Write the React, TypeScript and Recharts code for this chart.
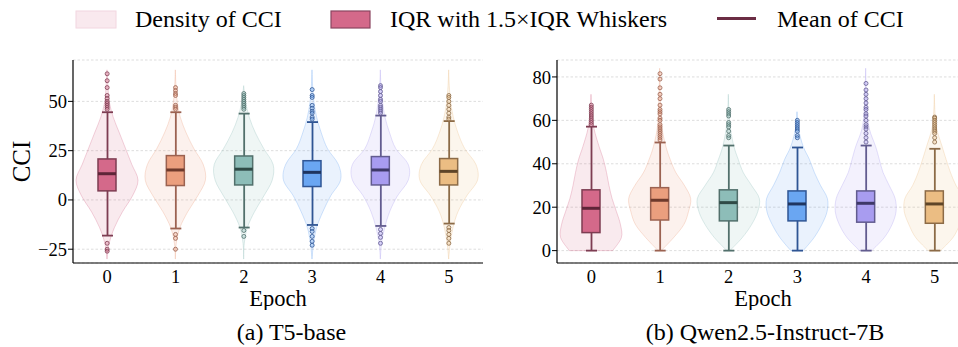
import React from 'react';
import { ComposedChart, Bar, Scatter, XAxis, YAxis, CartesianGrid, Label } from 'recharts';

const FONT = '"Liberation Serif", "Times New Roman", serif';

const EPOCHS = ['0', '1', '2', '3', '4', '5'];
const FILLS = ['#d4698a', '#eb9f7e', '#8dbdb8', '#6aa6f2', '#a89cf0', '#ebbd83'];
const EDGES = ['#7d3d52', '#9b6251', '#52706c', '#2f5594', '#625c8f', '#8c6b47'];
const MEAN_COLORS = ['#5e2538', '#6e3a2c', '#2f4a46', '#1f3560', '#3e3868', '#5e4528'];

// (a) T5-base
const T5_Q1 = [4.6, 7.3, 7.6, 6.8, 7.6, 7.6];
const T5_Q3 = [20.8, 22.5, 22.3, 19.9, 22, 21];
const T5_MEAN = [13.3, 15.2, 15.6, 14, 15.2, 14.5];
const T5_LOW = [-18.1, -14.5, -14, -12.7, -13.2, -12];
const T5_HIGH = [44.5, 44.5, 43.8, 39.5, 42.8, 40];
const T5_OUTLIERS = [
  [64, 60.5, 57, 53, 51.5, 50, 49, 48, 47, 46, -22, -25, -26],
  [57, 55.5, 54, 53, 48, 47, 46, -17.5, -19.5, -25],
  [54, 53, 52, 51, 50, 49, 48, 47, 46, -15.5, -18.5],
  [56, 53, 52, 48, 46.5, 45, 44, 42, 41, -14.5, -16, -18.5, -21, -23],
  [58, 57, 55, 53, 51, 50, 48, 47, 46, 45, 44, -15, -17, -19, -22],
  [53, 52, 50, 48, 46, 44, 42, 41, -14, -15.5, -17.5, -19.5, -22],
];
const T5_GRID = [-30, -22, -14, -6, 2, 10, 18, 26, 34, 42, 50, 58, 66];
const T5_DENSITY = [
  [0, 0.07, 0.24, 0.5, 0.82, 1.0, 0.8, 0.6, 0.4, 0.2, 0.07, 0.03, 0],
  [0, 0.03, 0.15, 0.4, 0.72, 0.97, 0.9, 0.6, 0.35, 0.16, 0.06, 0.02, 0],
  [0, 0.02, 0.12, 0.35, 0.65, 0.92, 0.95, 0.65, 0.38, 0.18, 0.06, 0, 0],
  [0, 0.05, 0.15, 0.35, 0.6, 0.92, 0.85, 0.5, 0.3, 0.15, 0.06, 0.02, 0],
  [0, 0.04, 0.14, 0.3, 0.55, 0.9, 0.9, 0.5, 0.3, 0.15, 0.07, 0.02, 0],
  [0, 0.05, 0.14, 0.3, 0.58, 0.93, 0.88, 0.52, 0.3, 0.15, 0.06, 0.02, 0],
];
const T5_TICKS = [-25, 0, 25, 50];

// (b) Qwen2.5-Instruct-7B
const QW_Q1 = [8.3, 14.1, 13.7, 13.7, 13.1, 12.6];
const QW_Q3 = [28, 29, 28, 27.5, 27.5, 27.5];
const QW_MEAN = [19.5, 23.2, 22.1, 21.5, 21.8, 21.5];
const QW_LOW = [0, 0, 0, 0, 0, 0];
const QW_HIGH = [57.1, 49.8, 48.4, 47.5, 48.4, 46.9];
const QW_OUTLIERS = [
  [67, 66, 65, 64, 63, 62, 61, 60, 59, 58],
  [81.5, 79, 75, 72, 70, 67, 65, 64, 63, 61, 60, 58, 57, 56, 55, 54, 53, 52, 51],
  [65, 64, 63, 62, 59, 58, 57, 55, 53, 52],
  [60, 59, 58, 57, 56, 55, 53, 52],
  [77, 74, 72, 70, 68, 66, 65, 63, 62, 60, 58, 57, 56, 54, 52, 50],
  [61.5, 61, 60, 59, 58, 57, 56, 55, 54, 52, 50],
];
const QW_GRID = [0, 6, 12, 18, 24, 30, 36, 42, 48, 56, 64, 72, 84];
const QW_DENSITY = [
  [0.7, 0.98, 0.95, 0.82, 0.68, 0.58, 0.5, 0.4, 0.26, 0.1, 0.03, 0, 0],
  [0.05, 0.45, 0.78, 0.93, 1.0, 0.8, 0.52, 0.34, 0.2, 0.08, 0.04, 0.02, 0],
  [0.05, 0.45, 0.75, 0.95, 1.0, 0.75, 0.48, 0.32, 0.18, 0.07, 0.02, 0, 0],
  [0.2, 0.55, 0.8, 0.97, 0.98, 0.76, 0.56, 0.4, 0.2, 0.05, 0, 0, 0],
  [0.2, 0.6, 0.85, 0.98, 0.95, 0.76, 0.56, 0.44, 0.32, 0.12, 0.05, 0.02, 0],
  [0.2, 0.6, 0.82, 0.97, 0.95, 0.7, 0.52, 0.38, 0.25, 0.08, 0.02, 0, 0],
];
const QW_TICKS = [0, 20, 40, 60, 80];

// catmull-rom through the points, as cubic segments
const curve = (pts: number[][]) => {
  let d = '';
  for (let i = 0; i < pts.length - 1; i++) {
    const p0 = pts[Math.max(i - 1, 0)];
    const p1 = pts[i];
    const p2 = pts[i + 1];
    const p3 = pts[Math.min(i + 2, pts.length - 1)];
    const c1 = [p1[0] + (p2[0] - p0[0]) / 6, p1[1] + (p2[1] - p0[1]) / 6];
    const c2 = [p2[0] - (p3[0] - p1[0]) / 6, p2[1] - (p3[1] - p1[1]) / 6];
    d += ` C${c1[0]},${c1[1]} ${c2[0]},${c2[1]} ${p2[0]},${p2[1]}`;
  }
  return d;
};

const Violin = (p: any) => {
  const { x, y, width, height, payload } = p;
  const top = Math.min(y, y + height);
  const h = Math.abs(height);
  const g: number[] = payload.grid;
  const w: number[] = payload.dens;
  const lo = g[0];
  const hi = g[g.length - 1];
  const py = (v: number) => top + ((hi - v) / (hi - lo)) * h;
  // keep only the part with some width, plus one closing point at each end
  let a = 0;
  while (a < w.length - 1 && w[a + 1] === 0) a++;
  let b = w.length - 1;
  while (b > 0 && w[b - 1] === 0) b--;
  const cx = x + width / 2;
  const half = width / 2;
  const idx = g.map((_, i) => i).filter((i) => i >= a && i <= b);
  const right = idx.map((i) => [cx + w[i] * half, py(g[i])]).reverse();
  const left = idx.map((i) => [cx - w[i] * half, py(g[i])]);
  const d = `M${right[0][0]},${right[0][1]}` + curve(right) + ` L${left[0][0]},${left[0][1]}` + curve(left) + ' Z';
  const c = FILLS[payload.k];
  return <path d={d} fill={c} fillOpacity={0.14} stroke={c} strokeOpacity={0.3} strokeWidth={1} />;
};

const Whisker = (p: any) => {
  const { x, y, width, height, payload } = p;
  const top = Math.min(y, y + height);
  const bot = Math.max(y, y + height);
  const cx = x + width / 2;
  const c = EDGES[payload.k];
  return (
    <g stroke={c} strokeWidth={1.8}>
      <line x1={cx} x2={cx} y1={top} y2={bot} />
      <line x1={x} x2={x + width} y1={top} y2={top} />
      <line x1={x} x2={x + width} y1={bot} y2={bot} />
    </g>
  );
};

const Box = (p: any) => {
  const { x, y, width, height, payload } = p;
  const top = Math.min(y, y + height);
  return (
    <rect x={x} y={top} width={width} height={Math.abs(height)} fill={FILLS[payload.k]}
      stroke={EDGES[payload.k]} strokeWidth={1.5} />
  );
};

const MeanLine = (p: any) => {
  const { x, y, width, payload } = p;
  return <line x1={x} x2={x + width} y1={y} y2={y} stroke={MEAN_COLORS[payload.k]} strokeWidth={3} />;
};

const Dot = (p: any) => {
  const { cx, cy, payload } = p;
  return <circle cx={cx} cy={cy} r={2} fill={FILLS[payload.k]} fillOpacity={0.35} stroke={EDGES[payload.k]} strokeWidth={0.8} />;
};

const fmt = (v: number) => String(v).replace('-', '\u2212');

interface PanelProps {
  grid: number[];
  dens: number[][];
  q1: number[];
  q3: number[];
  mean: number[];
  low: number[];
  high: number[];
  outliers: number[][];
  domain: [number, number];
  ticks: number[];
  yLabel?: string;
  width: number;
  yAxisWidth: number;
  marginRight: number;
  left: number;
}

const Panel: React.FC<PanelProps> = (props) => {
  const { grid, dens, q1, q3, mean, low, high, outliers, domain, ticks, yLabel } = props;
  const rows = EPOCHS.map((e, k) => ({
    epoch: e,
    k,
    grid,
    dens: dens[k],
    violin: [grid[0], grid[grid.length - 1]],
    whisker: [low[k], high[k]],
    box: [q1[k], q3[k]],
    mean: [mean[k], mean[k]],
  }));
  const dots = outliers.flatMap((vals, k) => vals.map((v) => ({ x: k, y: v, k })));
  const tickStyle = { fill: '#000', fontSize: 18.5, style: { fontFamily: FONT } };

  return (
    <div style={{ position: 'absolute', left: props.left, top: 0 }}>
      <ComposedChart width={props.width} height={310} data={rows}
        margin={{ top: 60, right: props.marginRight, left: 0, bottom: 0 }}>
        <CartesianGrid vertical={false} stroke="#d4d4d4" strokeDasharray="2.5 2" strokeWidth={0.8} />
        <XAxis xAxisId="b" dataKey="epoch" type="category" height={47} tickLine={false}
          axisLine={{ stroke: '#000', strokeWidth: 1.2 }} tick={tickStyle} tickSize={6} tickMargin={1}>
          <Label value="Epoch" position="insideBottom" offset={4}
            style={{ fill: '#000', fontSize: 22.5, fontFamily: FONT }} />
        </XAxis>
        <XAxis xAxisId="v" dataKey="epoch" type="category" hide />
        <XAxis xAxisId="w" dataKey="epoch" type="category" hide />
        <XAxis xAxisId="m" dataKey="epoch" type="category" hide />
        <XAxis xAxisId="n" dataKey="x" type="number" domain={[-0.5, 5.5]} allowDataOverflow hide />
        <YAxis domain={domain} ticks={ticks} allowDataOverflow width={props.yAxisWidth}
          tickFormatter={fmt} tick={tickStyle} tickSize={5} tickMargin={1}
          axisLine={{ stroke: '#000', strokeWidth: 1.2 }} tickLine={{ stroke: '#000', strokeWidth: 1 }}>
          {yLabel ? (
            <Label value={yLabel} angle={-90} position="insideLeft" offset={21}
              style={{ textAnchor: 'middle', fill: '#000', fontSize: 25, fontFamily: FONT }} />
          ) : null}
        </YAxis>
        <Bar xAxisId="v" dataKey={(r: any) => r.violin} barSize={62} shape={Violin} isAnimationActive={false} />
        <Bar xAxisId="w" dataKey={(r: any) => r.whisker} barSize={11} shape={Whisker} isAnimationActive={false} />
        <Bar xAxisId="b" dataKey={(r: any) => r.box} barSize={18} shape={Box} isAnimationActive={false} />
        <Bar xAxisId="m" dataKey={(r: any) => r.mean} barSize={18} shape={MeanLine} isAnimationActive={false} />
        <Scatter xAxisId="n" data={dots} dataKey="y" shape={Dot} isAnimationActive={false} />
      </ComposedChart>
    </div>
  );
};

const App: React.FC = () => {
  const text = { fontSize: 24, fill: '#000', style: { fontFamily: FONT } };
  return (
    <div style={{ position: 'absolute', left: 0, top: 0, width: 958, height: 347, overflow: 'hidden', background: '#fff' }}>
      <Panel grid={T5_GRID} dens={T5_DENSITY} q1={T5_Q1} q3={T5_Q3} mean={T5_MEAN} low={T5_LOW}
        high={T5_HIGH} outliers={T5_OUTLIERS} domain={[-32, 71]} ticks={T5_TICKS} yLabel="CCI"
        width={484} yAxisWidth={73} marginRight={1} left={0} />
      <Panel grid={QW_GRID} dens={QW_DENSITY} q1={QW_Q1} q3={QW_Q3} mean={QW_MEAN} low={QW_LOW}
        high={QW_HIGH} outliers={QW_OUTLIERS} domain={[-5.7, 87.8]} ticks={QW_TICKS}
        width={469} yAxisWidth={57} marginRight={0} left={500} />
      <svg width={958} height={347} style={{ position: 'absolute', left: 0, top: 0, pointerEvents: 'none' }}>
        <rect x={76} y={11} width={40} height={17} fill="#f9e9ee" stroke="#f2d6e0" strokeWidth={1} />
        <text x={135} y={27} {...text}>Density of CCI</text>
        <rect x={331} y={11} width={39} height={17} fill="#d4698a" stroke="#8a4560" strokeWidth={1.2} />
        <text x={390} y={27} {...text}>IQR with 1.5×IQR Whiskers</text>
        <line x1={717} x2={756} y1={18.5} y2={18.5} stroke="#6b2d44" strokeWidth={3} />
        <text x={777} y={27} {...text}>Mean of CCI</text>
        <text x={291.5} y={340} textAnchor="middle" {...text}>(a) T5-base</text>
        <text x={765} y={340} textAnchor="middle" {...text}>(b) Qwen2.5-Instruct-7B</text>
      </svg>
    </div>
  );
};

export default App;
